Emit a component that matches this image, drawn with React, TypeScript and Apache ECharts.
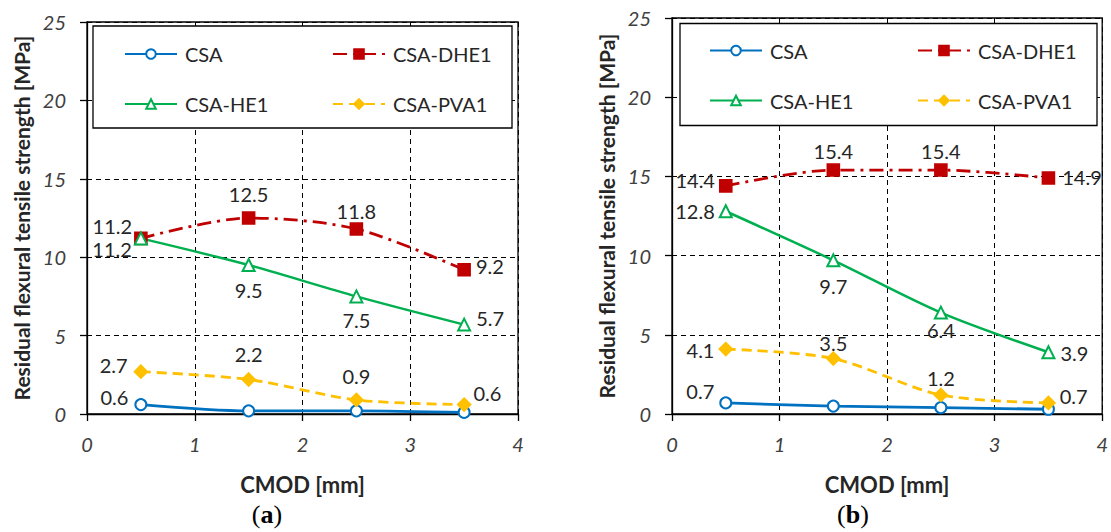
import React, { useEffect, useRef } from "react";
import * as echarts from "echarts";

// ---- data ----
const CMOD = [0.5, 1.5, 2.5, 3.5];
const X_TICKS = [0, 1, 2, 3, 4];
const Y_TICKS = [0, 5, 10, 15, 20, 25];
const SERIES_NAMES = ["CSA", "CSA-DHE1", "CSA-HE1", "CSA-PVA1"];

const A_CSA = [0.6, 0.2, 0.2, 0.1];
const A_DHE1 = [11.2, 12.5, 11.8, 9.2];
const A_HE1 = [11.2, 9.5, 7.5, 5.7];
const A_PVA1 = [2.7, 2.2, 0.9, 0.6];

const B_CSA = [0.7, 0.5, 0.4, 0.3];
const B_DHE1 = [14.4, 15.4, 15.4, 14.9];
const B_HE1 = [12.8, 9.7, 6.4, 3.9];
const B_PVA1 = [4.1, 3.5, 1.2, 0.7];

const CAPTIONS = ["a", "b"];

// ---- label placement (style): [position, dy, distance] or null ----
type LS = [string, number, number] | null;
const A_CSA_L: LS[] = [["left", -8, 6], null, null, null];
const A_DHE1_L: LS[] = [["left", -12, 2], ["top", -2.5, 5], ["top", 3.5, 5], ["right", -4, 5]];
const A_HE1_L: LS[] = [["left", 11, 2], ["bottom", 2.5, 5], ["bottom", 2, 5], ["right", -6.6, 5]];
const A_PVA1_L: LS[] = [["left", -7, 6], ["top", -3.5, 5], ["top", -1.5, 5], ["right", -12, 2]];

const B_CSA_L: LS[] = [["left", -12, 5], null, null, null];
const B_DHE1_L: LS[] = [["left", -6, 4], ["top", 3, 5], ["top", 3, 5], ["right", -1, 7]];
const B_HE1_L: LS[] = [["left", 0, 4], ["bottom", 3.5, 5], ["bottom", -5, 5], ["right", 1, 5]];
const B_PVA1_L: LS[] = [["left", 1, 4], ["top", 7, 5], ["top", 5.5, 5], ["right", -7, 4]];

const FONT = "Lato";
const TXT = "#262626";

const STYLES: Record<string, any> = {
  CSA: { color: "#0070C0", symbol: "emptyCircle", symbolSize: 11, lineType: "solid", width: 2.8 },
  "CSA-DHE1": { color: "#C00000", symbol: "rect", symbolSize: 12, lineType: [14, 6, 3, 6], width: 2.8 },
  "CSA-HE1": { color: "#00B050", symbol: "emptyTriangle", symbolSize: 12, lineType: "solid", width: 2.5 },
  "CSA-PVA1": { color: "#FFC000", symbol: "diamond", symbolSize: 13, lineType: [10, 6], width: 2.8 },
};

function mkData(ys: number[], labs: LS[]) {
  return CMOD.map((x, i) => {
    const l = labs[i];
    return {
      value: [x, ys[i]],
      label: l
        ? { show: true, position: l[0], offset: [0, l[1]], distance: l[2] }
        : { show: false },
    };
  });
}

function mkSeries(name: string, ys: number[], labs: LS[], idx: number) {
  const s = STYLES[name];
  return {
    name,
    type: "line",
    xAxisIndex: idx,
    yAxisIndex: idx,
    data: mkData(ys, labs),
    smooth: 0.3,
    symbol: s.symbol,
    symbolSize: s.symbolSize,
    showAllSymbol: true,
    lineStyle: { color: s.color, width: s.width, type: s.lineType },
    itemStyle: { color: s.color, borderColor: s.color, borderWidth: 1.6 },
    label: {
      fontFamily: FONT,
      fontSize: 20,
      color: TXT,
      formatter: (p: any) => String(p.value[1]),
    },
    emphasis: { disabled: true },
    z: 3,
  };
}

const GRIDS = [
  { left: 87, top: 22, width: 431, height: 392 },
  { left: 672, top: 18, width: 431, height: 396 },
];
const LEGEND_BOXES = [
  { x: 93, y: 26, w: 419, h: 102, c1: 124, c2: 332, r1: 54 },
  { x: 680, y: 23.5, w: 417, h: 102, c1: 709, c2: 917, r1: 50.5 },
];
const CAPTION_POS = [
  [267, 514],
  [853, 514],
];

export default function App() {
  const ref = useRef<HTMLDivElement>(null);
  useEffect(() => {
    if (!ref.current) return;
    const chart = echarts.init(ref.current, undefined, { renderer: "svg" });

    const xAxes = GRIDS.map((_, i) => ({
      type: "value",
      gridIndex: i,
      min: X_TICKS[0],
      max: X_TICKS[X_TICKS.length - 1],
      interval: 1,
      name: "CMOD [mm]",
      nameLocation: "middle",
      nameGap: 59,
      nameTextStyle: { fontFamily: FONT, fontSize: 22, fontWeight: "bold", color: TXT },
      axisLine: { show: true, onZero: false, lineStyle: { color: "#000", width: 1.3 } },
      axisTick: { show: true, length: 7, lineStyle: { color: "#000", width: 1.3 } },
      axisLabel: { fontFamily: FONT, fontSize: 20, fontStyle: "italic", color: "#404040", margin: 20 },
      splitLine: { show: true, lineStyle: { color: "#000", width: 1, type: [5, 4] } },
    }));
    const yAxes = GRIDS.map((_, i) => ({
      type: "value",
      gridIndex: i,
      min: Y_TICKS[0],
      max: Y_TICKS[Y_TICKS.length - 1],
      interval: 5,
      name: "Residual flexural tensile strength [MPa]",
      nameLocation: "middle",
      nameGap: 55,
      nameTextStyle: { fontFamily: FONT, fontSize: 21, fontWeight: "bold", color: TXT },
      axisLine: { show: true, onZero: false, lineStyle: { color: "#000", width: 1.3 } },
      axisTick: { show: true, length: 7, lineStyle: { color: "#000", width: 1.3 } },
      axisLabel: { fontFamily: FONT, fontSize: 20, fontStyle: "italic", color: "#404040", margin: 21 },
      splitLine: { show: true, lineStyle: { color: "#000", width: 1, type: [5, 4] } },
    }));

    const legendCommon = {
      orient: "vertical",
      itemWidth: 52,
      itemHeight: 12,
      itemGap: 30,
      padding: 0,
      selectedMode: false,
      textStyle: { fontFamily: FONT, fontSize: 20, color: TXT, lineHeight: 20, padding: [0, 0, 0, 3] },
      z: 10,
    };
    const legends: any[] = [];
    LEGEND_BOXES.forEach((b) => {
      legends.push({ ...legendCommon, left: b.c1, top: b.r1 - 10, data: [SERIES_NAMES[0], SERIES_NAMES[2]] });
      legends.push({ ...legendCommon, left: b.c2, top: b.r1 - 10, data: [SERIES_NAMES[1], SERIES_NAMES[3]] });
    });

    const graphics: any[] = [];
    LEGEND_BOXES.forEach((b) => {
      graphics.push({
        type: "rect",
        shape: { x: b.x, y: b.y, width: b.w, height: b.h },
        style: { fill: "#fff", stroke: "#000", lineWidth: 1.3 },
        z: 5,
      });
    });
    CAPTIONS.forEach((c, i) => {
      graphics.push({
        type: "text",
        x: CAPTION_POS[i][0],
        y: CAPTION_POS[i][1],
        style: {
          text: "{p|(}{b|" + c + "}{p|)}",
          fontSize: 26,
          fontFamily: "Liberation Serif",
          align: "center",
          verticalAlign: "middle",
          rich: {
            p: { fontFamily: "Liberation Serif", fontSize: 26, color: "#000" },
            b: { fontFamily: "Liberation Serif", fontSize: 26, fontWeight: "bold", color: "#000" },
          },
        },
        z: 10,
      });
    });

    const series = [
      mkSeries("CSA", A_CSA, A_CSA_L, 0),
      mkSeries("CSA-DHE1", A_DHE1, A_DHE1_L, 0),
      mkSeries("CSA-HE1", A_HE1, A_HE1_L, 0),
      mkSeries("CSA-PVA1", A_PVA1, A_PVA1_L, 0),
      mkSeries("CSA", B_CSA, B_CSA_L, 1),
      mkSeries("CSA-DHE1", B_DHE1, B_DHE1_L, 1),
      mkSeries("CSA-HE1", B_HE1, B_HE1_L, 1),
      mkSeries("CSA-PVA1", B_PVA1, B_PVA1_L, 1),
    ];

    chart.setOption({
      animation: false,
      backgroundColor: "#fff",
      grid: GRIDS.map((g) => ({ ...g, show: true, borderColor: "#000", borderWidth: 1.3, backgroundColor: "transparent" })),
      xAxis: xAxes,
      yAxis: yAxes,
      legend: legends,
      graphic: graphics,
      series,
    });
    return () => chart.dispose();
  }, []);

  return <div ref={ref} style={{ width: 1111, height: 532, position: "absolute", left: 0, top: 0 }} />;
}
